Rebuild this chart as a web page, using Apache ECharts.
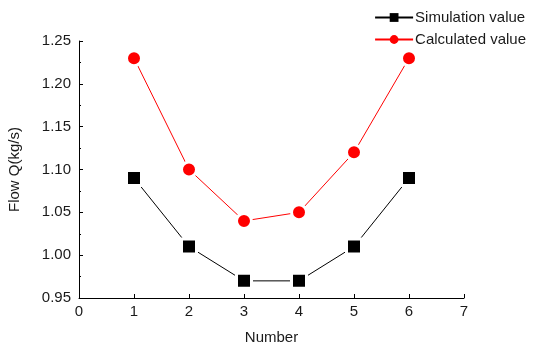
<!DOCTYPE html>
<html>
<head>
<meta charset="utf-8">
<script src="https://cdn.jsdelivr.net/npm/echarts@6/dist/echarts.min.js"></script>
<style>
	html, body { margin: 0; padding: 0; background: #fff; }
	#chart { width: 537px; height: 343px; }
</style>
</head>
<body>
<div id="chart"></div>
<script>
	// data
	var numbers = [1, 2, 3, 4, 5, 6]
	var simulation = [1.09, 1.01, 0.97, 0.97, 1.01, 1.09]
	var calculated = [1.23, 1.10, 1.04, 1.05, 1.12, 1.23]

	var font = 'Liberation Sans, Arial, sans-serif'
	var ink = '#1a1a1a'

	function pairs(xs, ys) {
		var out = []
		for (var i = 0; i < xs.length; i++) out.push([xs[i], ys[i]])
		return out
	}

	var myChart = echarts.init(document.getElementById('chart'))
	var option = {
		animation: false,
		grid: { left: 79, right: 73, top: 41, bottom: 45, outerBoundsMode: 'none' },
		legend: {
			right: 6,
			top: 5,
			orient: 'vertical',
			itemWidth: 38,
			itemHeight: 11,
			itemGap: 7,
			itemStyle: { borderWidth: 0 },
			textStyle: { fontFamily: font, fontSize: 15, color: ink, padding: [0, 0, 0, -3] },
			data: ['Simulation value', 'Calculated value']
		},
		xAxis: {
			type: 'value',
			min: 0,
			max: 7,
			interval: 1,
			name: 'Number',
			nameLocation: 'middle',
			nameGap: 32,
			nameTextStyle: { fontFamily: font, fontSize: 15, color: ink },
			axisLine: { lineStyle: { color: '#000', width: 1 } },
			axisTick: { inside: true, length: 4, lineStyle: { color: '#000' } },
			axisLabel: { fontFamily: font, fontSize: 15, color: ink, margin: 6 },
			splitLine: { show: false }
		},
		yAxis: {
			type: 'value',
			min: 0.95,
			max: 1.25,
			interval: 0.05,
			name: 'Flow Q(kg/s)',
			nameLocation: 'middle',
			nameGap: 57,
			nameTextStyle: { fontFamily: font, fontSize: 15, color: ink },
			axisLine: { show: true, lineStyle: { color: '#000', width: 1 } },
			axisTick: { show: true, inside: true, length: 4, lineStyle: { color: '#000' } },
			minorTick: { show: true, splitNumber: 2, length: 2, lineStyle: { color: '#000' } },
			axisLabel: {
				fontFamily: font, fontSize: 15, color: ink, margin: 8,
				formatter: function (v) { return v.toFixed(2) }
			},
			splitLine: { show: false }
		},
		series: [
			{
				name: 'Simulation value',
				type: 'line',
				data: pairs(numbers, simulation),
				symbol: 'rect',
				symbolSize: 15,
				itemStyle: { color: '#000', borderColor: '#fff', borderWidth: 3 },
				lineStyle: { color: '#000', width: 1 }
			},
			{
				name: 'Calculated value',
				type: 'line',
				data: pairs(numbers, calculated),
				symbol: 'circle',
				symbolSize: 15,
				itemStyle: { color: '#ff0000', borderColor: '#fff', borderWidth: 3 },
				lineStyle: { color: '#ff0000', width: 1 }
			}
		]
	}
	myChart.setOption(option)
</script>
</body>
</html>
